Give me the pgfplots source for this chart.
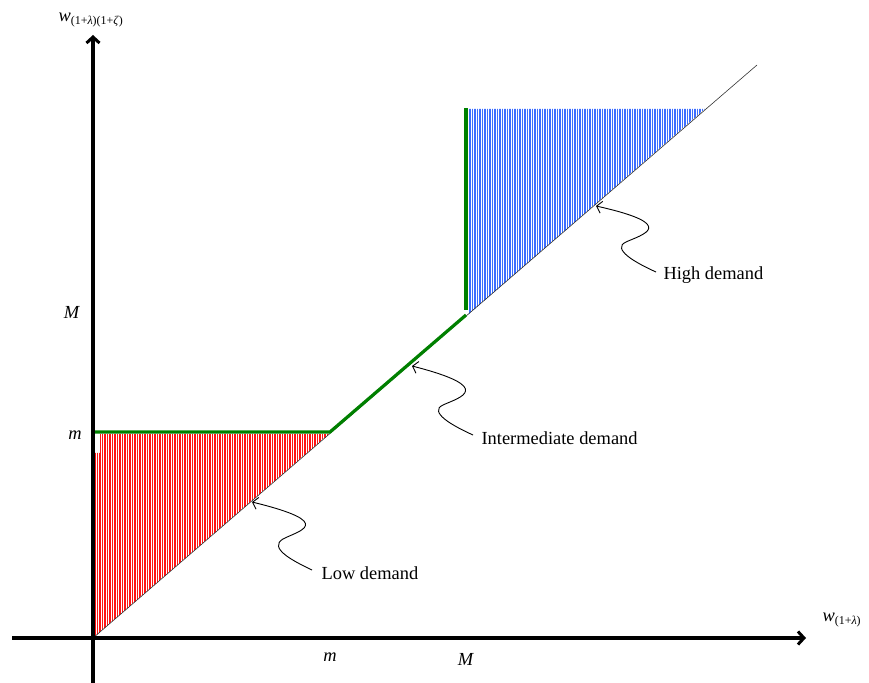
\documentclass[border=0pt]{standalone}
\usepackage{fontspec}
\setmainfont{Liberation Serif}
\usepackage{pgfplots}
\pgfplotsset{compat=1.18}
\usetikzlibrary{patterns.meta, arrows.meta}

\definecolor{hatchblue}{RGB}{60,110,255}
\definecolor{hatchred}{RGB}{255,20,20}

% data in picture units: x = px - 93, y = 638 - py
\pgfplotstableread{
x y
0 0
664 573
}\diag

\newcommand{\lab}{\fontsize{18.5}{22}\selectfont}
\newcommand{\sub}{\fontsize{12}{14}\selectfont}

\begin{document}
\begin{tikzpicture}
\begin{axis}[
    x=1bp, y=1bp,
    xmin=-93, xmax=776, ymin=-45, ymax=638,
    axis lines=none,
    clip=false,
]
% hatched regions
\addplot[draw=none, pattern={Lines[angle=90,distance=2.5bp,line width=1.4bp]}, pattern color=hatchred]
    coordinates {(2,0) (2,185) (7,185) (7,204) (236,204) (2,1.7)} -- cycle;
\addplot[draw=none, pattern={Lines[angle=90,distance=2.5bp,line width=1.4bp]}, pattern color=hatchblue]
    coordinates {(376,324) (376,529) (612,529)} -- cycle;
% 45-degree line
\addplot[black!80, line width=0.6bp] table {\diag};
% green boundary
\addplot[green!50!black, line width=3.2bp] coordinates {(0,206) (237,206) (373,323)};
\addplot[green!50!black, line width=3.2bp] coordinates {(373,328) (373,530)};
% axes
\draw[line width=3.4bp, -{Straight Barb[length=6bp,width=13bp,line width=3bp]}]
    (axis cs:-81,0) -- (axis cs:713,0);
\draw[line width=3.4bp, -{Straight Barb[length=6bp,width=13bp,line width=3bp]}]
    (axis cs:0,-45) -- (axis cs:0,603);
% axis labels
\node[anchor=west] at (axis cs:-38,618) {\lab\textit{w}\raisebox{-0.45ex}{\sub(1+\textit{λ})(1+\textit{ζ})}};
\node[anchor=west] at (axis cs:726,18) {\lab\textit{w}\raisebox{-0.45ex}{\sub(1+\textit{λ})}};
\node at (axis cs:-18,203) {\lab\textit{m}};
\node at (axis cs:-21,326) {\lab\textit{M}};
\node at (axis cs:237,-19) {\lab\textit{m}};
\node at (axis cs:373,-21) {\lab\textit{M}};
% annotations
\tikzset{snake/.style={line width=0.9bp, -{Straight Barb[length=5bp,width=12bp,line width=0.9bp]}}}
\node[anchor=west] at (axis cs:225,65) {\lab Low demand};
\draw[snake]
    (axis cs:219,68) .. controls (axis cs:200,77) and (axis cs:175,90) .. (axis cs:190,99)
    .. controls (axis cs:205,107) and (axis cs:245,115) .. (axis cs:159,136);
\node[anchor=west] at (axis cs:385,200) {\lab Intermediate demand};
\draw[snake]
    (axis cs:380,203) .. controls (axis cs:360,212) and (axis cs:335,226) .. (axis cs:350,233)
    .. controls (axis cs:365,240) and (axis cs:405,250) .. (axis cs:319,272);
\node[anchor=west] at (axis cs:567,363) {\lab High demand};
\draw[snake]
    (axis cs:563,366) .. controls (axis cs:543,375) and (axis cs:518,389) .. (axis cs:533,396)
    .. controls (axis cs:548,403) and (axis cs:588,413) .. (axis cs:503,432);
\coordinate (bl) at (axis cs:-93,-45);
\coordinate (tr) at (axis cs:776,638);
\end{axis}
\pgfresetboundingbox
\path[use as bounding box] (bl) rectangle (tr);
\end{tikzpicture}
\end{document}
